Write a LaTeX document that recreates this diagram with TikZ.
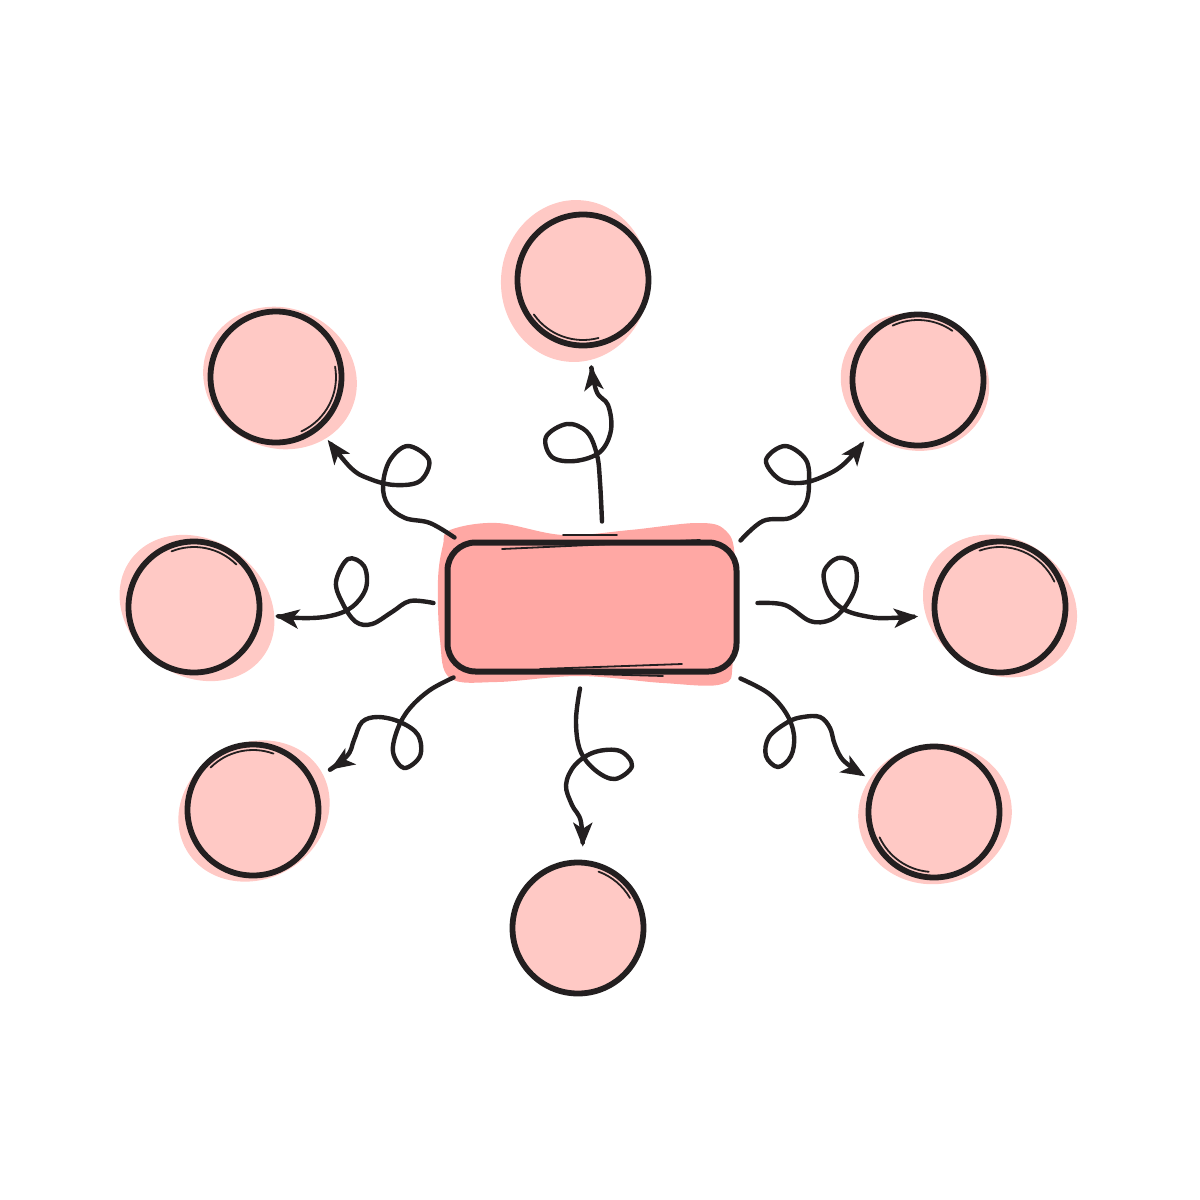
\documentclass[tikz,border=0pt]{standalone}
\usepackage{tikz}
\usetikzlibrary{arrows.meta,calc}
\definecolor{ink}{HTML}{231F20}
\definecolor{petal}{HTML}{FFC9C5}
\definecolor{boxpink}{HTML}{FFA8A4}
% thin sketch stroke inside a bubble: node, from, to (degrees), radius
\newcommand\sketcharc[4]{\draw[sketch] (#1.center) ++(-#2:#4) arc (-#2:-#3:#4);}
\begin{document}
\begin{tikzpicture}[x=1pt,y=-1pt,line join=round,line cap=round,
	bubble/.style={circle,draw=ink,line width=5.8pt,fill=petal,minimum size=131pt,inner sep=0pt},
	hub/.style={rectangle,rounded corners=28pt,draw=ink,line width=6pt,fill=boxpink,
		minimum width=289pt,minimum height=129pt},
	curly/.style={draw=ink,line width=4.4pt,-{Stealth[length=24pt,width=19pt,inset=6pt]}},
	sketch/.style={draw=ink,line width=1.8pt}]
\useasboundingbox (0,0) rectangle (1200,1200);

% blobs behind
\fill[boxpink] plot[smooth cycle,tension=.6] coordinates {(450,530) (497,523) (563,535)
	(630,530) (697,523) (725,530) (735,560) (733,660) (722,684) (663,683) (580,676)
	(497,682) (450,678) (440,640) (438,580) (443,545)};
\fill[petal,rotate around={-95:(575,281)}] (575,281) ellipse (81 and 74);
\fill[petal,rotate around={-23:(280,378)}] (280,378) ellipse (78 and 70);
\fill[petal,rotate around={-20:(915,382)}] (915,382) ellipse (75 and 68);
\fill[petal,rotate around={-36:(197,608)}] (197,608) ellipse (82 and 68);
\fill[petal,rotate around={-31:(1000,606)}] (1000,606) ellipse (80 and 68);
\fill[petal,rotate around={30:(254,811)}] (254,811) ellipse (78 and 68);
\fill[petal,rotate around={10:(935,814)}] (935,814) ellipse (77 and 70);

% nodes
\node[hub] (box) at (592,607) {};
\node[bubble] (n) at (583,280) {};
\node[bubble] (nw) at (276,377) {};
\node[bubble] (ne) at (918,380) {};
\node[bubble] (w) at (194,607) {};
\node[bubble] (e) at (1000,607) {};
\node[bubble] (sw) at (253,810) {};
\node[bubble] (s) at (578,928) {};
\node[bubble] (se) at (934,812) {};

% sketch strokes
\draw[sketch] (502,549) -- (700,540);
\draw[sketch] (563,535) -- (617,535);
\draw[sketch] (540,669) -- (682,664);
\draw[sketch] (592,674) -- (663,676);
\sketcharc{n}{215}{285}{60}
\sketcharc{nw}{-65}{10}{60}
\sketcharc{ne}{55}{115}{60}
\sketcharc{w}{45}{112}{60}
\sketcharc{e}{25}{110}{60}
\sketcharc{sw}{70}{135}{60}
\sketcharc{s}{30}{70}{60}
\sketcharc{se}{205}{265}{60}

% arrow starts
\coordinate (an) at ($(box.north)+(10,-18)$);
\coordinate (ane) at ($(box.north east)+(1,1)$);
\coordinate (ae) at ($(box.east)+(18,-4)$);
\coordinate (ase) at ($(box.south east)+(1,4)$);
\coordinate (as) at ($(box.south)+(-12,14)$);
\coordinate (asw) at ($(box.south west)+(9,3)$);
\coordinate (aw) at ($(box.west)+(-11,-4)$);
\coordinate (anw) at ($(box.north west)+(10,-2)$);

% loopy arrows
\draw[curly,shorten >=18pt] plot[smooth,tension=.6] coordinates {(an) (600,482) (597,455)
	(587,432) (567,424) (546,437) (552,457) (575,461) (600,452) (611,430) (608,405)
	(596,390) (n.-85)};
\draw[curly,shorten >=13pt] plot[smooth,tension=.6] coordinates {(ane) (763,521) (790,518)
	(805,505) (809,485) (806,460) (785,446) (766,460) (779,479) (800,483) (822,477)
	(845,463) (ne.-132)};
\draw[curly,shorten >=14pt] plot[smooth,tension=.6] coordinates {(ae) (785,605) (810,621)
	(830,620) (845,607) (856,585) (854,564) (838,558) (824,572) (829,595) (845,610)
	(870,617) (890,618) (e.-173)};
\draw[curly,shorten >=9pt] plot[smooth,tension=.6] coordinates {(ase) (768,693) (786,713)
	(794,735) (791,756) (778,767) (766,756) (769,737) (788,722) (803,717) (820,717)
	(830,728) (835,745) (845,762) (se.153)};
\draw[curly,shorten >=13pt] plot[smooth,tension=.6] coordinates {(as) (576,720) (580,750)
	(595,770) (615,779) (632,766) (620,751) (595,752) (575,765) (566,785) (572,805)
	(581,822) (s.86)};
\draw[curly,shorten >=19pt] plot[smooth,tension=.6] coordinates {(asw) (430,690) (410,708)
	(398,728) (393,752) (404,768) (420,756) (418,735) (400,722) (378,717) (362,722)
	(354,740) (346,757) (sw.26)};
\draw[curly,shorten >=13pt] plot[smooth,tension=.6] coordinates {(aw) (410,601) (392,612)
	(372,624) (356,622) (343,604) (336,582) (348,559) (364,566) (366,588) (352,607)
	(330,616) (300,618) (w.-6)};
\draw[curly,shorten >=13pt] plot[smooth,tension=.6] coordinates {(anw) (430,523) (405,518)
	(388,505) (383,485) (390,460) (408,446) (429,460) (420,481) (395,485) (370,479)
	(350,467) (nw.-50)};
\end{tikzpicture}
\end{document}
